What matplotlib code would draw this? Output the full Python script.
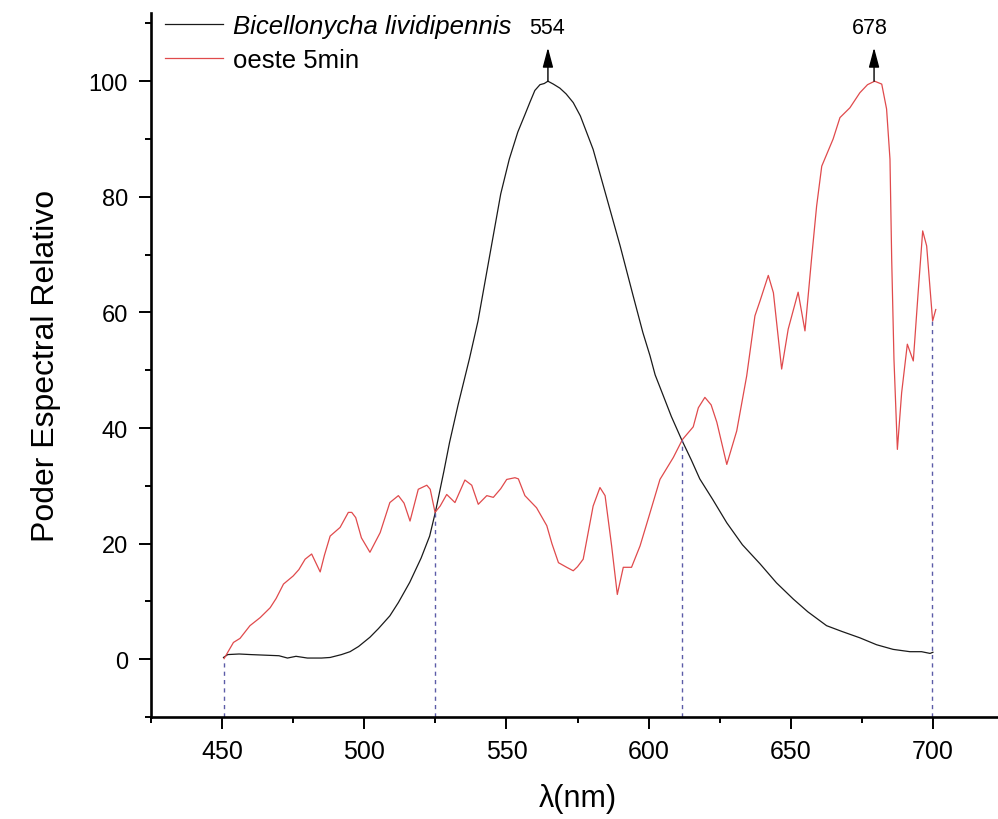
import matplotlib
matplotlib.use("Agg")
import matplotlib.pyplot as plt

plt.rcParams['font.family'] = ['Liberation Sans', 'DejaVu Sans']

# ---- data ----
black_x = [450.5, 452, 456, 460, 465, 470, 473, 476, 480, 485, 488, 492, 495, 498,
           502, 505, 509, 512, 516, 520, 523, 525, 528, 530, 533, 537, 540, 544, 548,
           551, 554, 556.5, 558.3, 560, 561.8, 563.3, 564.6, 566.5, 568.8, 571, 573.5,
           576, 580.5, 585.4, 590, 594.5, 598, 600.5, 602.3, 605, 608, 611.6, 615, 618,
           622.6, 627.5, 633, 639.2, 645, 650.9, 656, 662.6, 668, 674.3, 680.2, 686,
           691.9, 696, 699, 700]
black_y = [0.3, 0.8, 0.9, 0.8, 0.7, 0.6, 0.2, 0.5, 0.2, 0.2, 0.3, 0.8, 1.3, 2.2,
           3.8, 5.3, 7.5, 9.8, 13.3, 17.5, 21.3, 25.4, 32.5, 37.5, 44, 52, 58.5, 69.5, 80.5,
           86.5, 91.2, 94.2, 96.4, 98.4, 99.4, 99.6, 100, 99.5, 98.8, 97.8, 96.3,
           94, 88.2, 79.6, 71.5, 63, 56.5, 52.5, 49.2, 45.8, 42, 38, 34.5, 31.2,
           27.6, 23.6, 19.8, 16.5, 13.2, 10.4, 8.2, 5.8, 4.8, 3.7, 2.5, 1.7,
           1.3, 1.3, 1.0, 1.2]

red_x = [450.7, 454, 456.3, 459.8, 463.4, 466.9, 469, 471.6, 475, 477, 479.2, 481.5,
         484.5, 486, 488, 491.5, 494.4, 495.6, 497, 499, 502, 505.6, 509, 512, 514,
         516.1, 519, 522, 523.2, 524.9, 526.7, 529, 531.9, 535.4, 537.8, 540.1, 543.1,
         545.4, 548, 550.1, 553, 554.2, 556.5, 560.6, 564.2, 566, 568.3, 571.2, 573.5,
         575, 577, 580.5, 582.9, 584.7, 587, 589, 591.1, 594, 597, 600, 604, 608.7,
         611.9, 615.7, 617.5, 619.8, 622, 624, 627.5, 631, 634.5, 637.4, 639.2, 642.1,
         643.9, 646.8, 649.1, 652.6, 655, 657.3, 659.1, 660.9, 664.9, 667.3, 670.8,
         674.3, 677, 679.5, 682, 683.7, 684.9, 685.5, 686.3, 687.5, 689, 691, 693.1,
         694.8, 696.4, 697.8, 699.9, 701]
red_y = [0.1, 2.9, 3.6, 5.8, 7.2, 8.9, 10.5, 13, 14.4, 15.5, 17.3, 18.2,
         15.1, 18, 21.3, 22.8, 25.4, 25.4, 24.5, 21, 18.5, 21.9, 27.1, 28.3, 27,
         23.9, 29.4, 30.1, 29.4, 25.4, 26.5, 28.5, 27.1, 31, 30.1, 26.8, 28.3,
         28, 29.5, 31.1, 31.4, 31.2, 28.3, 26.2, 23.1, 20, 16.7, 15.9, 15.3,
         16, 17.3, 26.5, 29.7, 28.3, 19.6, 11.2, 15.9, 15.9, 19.6, 24.5, 31.1, 34.9,
         38, 40.2, 43.5, 45.3, 44, 41, 33.7, 39.5, 49, 59.4, 62, 66.4,
         63.4, 50.2, 57.1, 63.5, 56.8, 69.2, 78.4, 85.3, 90, 93.7, 95.4,
         98, 99.4, 100, 99.5, 95.2, 86.5, 69.2, 51.9, 36.3, 46.1, 54.5, 51.6,
         63.4, 74.1, 71.5, 58.5, 60.5]

drop_x = [450.7, 524.9, 611.7, 699.7]
drop_y = [0.1, 25.4, 38.0, 58.5]

peak_x = [564.6, 679.3]
peak_y = [100.0, 100.0]
peak_labels = ['554', '678']
peak_label_x = [564.3, 677.8]

series_labels = ['Bicellonycha lividipennis', 'oeste 5min']
xticks = [450, 500, 550, 600, 650, 700]
yticks = [0, 20, 40, 60, 80, 100]

# ---- figure ----
W, H = 998, 820
fig = plt.figure(figsize=(W / 100, H / 100), dpi=100)
L, R, B, T = 151, 1004, 718, 14
ax = fig.add_axes([L / W, 1 - B / H, (R - L) / W, (B - T) / H])

l1, = ax.plot(black_x, black_y, color='#1a1a1a', lw=0.9)
l2, = ax.plot(red_x, red_y, color='#e04a4c', lw=0.9)

ax.vlines(drop_x, -10, drop_y, colors='#5c5ca8', linestyles=(0, (3, 3)), lw=1.0)

for px, py, lab, lx in zip(peak_x, peak_y, peak_labels, peak_label_x):
    ax.annotate('', xy=(px, 105.8), xytext=(px, py),
                arrowprops=dict(arrowstyle='-|>,head_length=0.6,head_width=0.16',
                                color='black', lw=1.0, shrinkA=0, shrinkB=0,
                                mutation_scale=20))
    ax.text(lx, 109.3, lab, ha='center', va='center', fontsize=15.5)

ax.set_xlim(425, 725)
ax.set_ylim(-10, 111.8)

for s in ['top', 'right']:
    ax.spines[s].set_visible(False)
for s in ['left', 'bottom']:
    ax.spines[s].set_linewidth(1.9)

ax.set_xticks(xticks)
ax.set_xticks([425, 475, 525, 575, 625, 675, 725], minor=True)
ax.set_yticks(yticks)
ax.set_yticks([-10, 10, 30, 50, 70, 90, 110], minor=True)
ax.tick_params(which='major', direction='out', length=8.6, width=1.4, labelsize=18, pad=7)
ax.tick_params(which='minor', direction='out', length=4.3, width=1.4)
ax.tick_params(axis='y', labelsize=17, pad=8)

ax.set_xlabel('λ(nm)', fontsize=22, labelpad=15)
ax.set_ylabel('Poder Espectral Relativo', fontsize=23, labelpad=20)

leg = ax.legend([l1, l2], series_labels, loc='upper left',
                bbox_to_anchor=(165 / W, 1 - 15 / H), bbox_transform=fig.transFigure,
                frameon=False, fontsize=18.5, borderpad=0, borderaxespad=0,
                handlelength=2.25, handletextpad=0.4, labelspacing=0.4)
leg.get_texts()[0].set_fontstyle('italic')

fig.savefig('out.png', dpi=100)
